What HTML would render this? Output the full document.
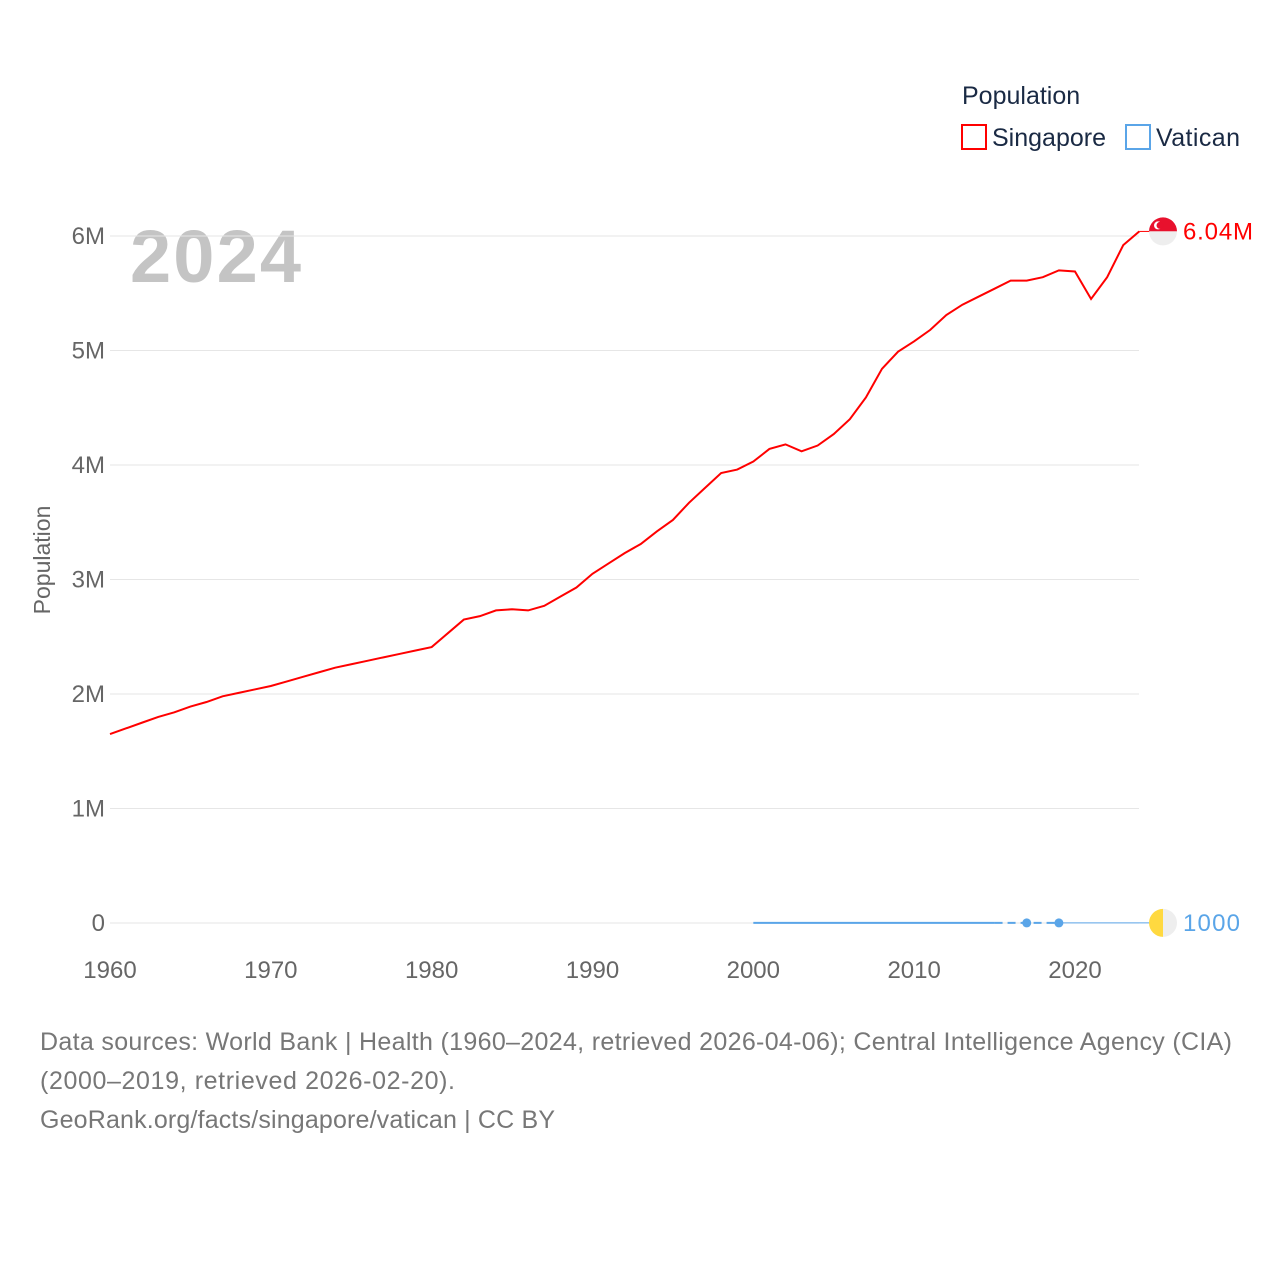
<!DOCTYPE html>
<html><head><meta charset="utf-8"><style>
body{margin:0;background:#fff;font-family:"Liberation Sans",sans-serif}
svg text{font-family:"Liberation Sans",sans-serif}
</style></head><body>
<svg id="c" width="1280" height="1280">
<text x="962" y="104" font-size="25" fill="#1a2a44">Population</text>
<g><rect x="962" y="125" width="24" height="24" fill="none" stroke="#f00" stroke-width="2"/><text x="992" y="146" font-size="25" fill="#1a2a44" textLength="114">Singapore</text></g>
<g><rect x="1126" y="125" width="24" height="24" fill="none" stroke="#5aa5e8" stroke-width="2"/><text x="1156" y="146" font-size="25" fill="#1a2a44" textLength="84">Vatican</text></g>
<text x="130" y="282" font-size="74" font-weight="bold" fill="#c4c4c4" textLength="171">2024</text>
<text transform="translate(50,560) rotate(-90)" text-anchor="middle" font-size="23" fill="#666">Population</text>
<g id="grid"></g><g id="marks"></g>
<text x="40" y="1050" font-size="25" fill="#777" textLength="1192">Data sources: World Bank | Health (1960–2024, retrieved 2026-04-06); Central Intelligence Agency (CIA)</text>
<text x="40" y="1089" font-size="25" fill="#777" textLength="415">(2000–2019, retrieved 2026-02-20).</text>
<text x="40" y="1128" font-size="25" fill="#777" textLength="515">GeoRank.org/facts/singapore/vatican | CC BY</text>
</svg>
<script>
const years=[];for(let y=1960;y<=2024;y++)years.push(y);
const singapore=[1.65,1.70,1.75,1.80,1.84,1.89,1.93,1.98,2.01,2.04,2.07,2.11,2.15,2.19,2.23,2.26,2.29,2.32,2.35,2.38,2.41,2.53,2.65,2.68,2.73,2.74,2.73,2.77,2.85,2.93,3.05,3.14,3.23,3.31,3.42,3.52,3.67,3.80,3.93,3.96,4.03,4.14,4.18,4.12,4.17,4.27,4.40,4.59,4.84,4.99,5.08,5.18,5.31,5.40,5.47,5.54,5.61,5.61,5.64,5.70,5.69,5.45,5.64,5.92,6.04];
const vaticanYears=[2000,2005,2010,2015,2017,2019];
const vatican=[800,800,800,800,1000,1000];
const yTicks=[0,1,2,3,4,5,6];const yTickLabels=["0","1M","2M","3M","4M","5M","6M"];
const xTicks=[1960,1970,1980,1990,2000,2010,2020];
const X=y=>110+(y-1960)*16.083;
const Y=v=>923-v*114.5;
const NS="http://www.w3.org/2000/svg";
function mk(t,a,p){const e=document.createElementNS(NS,t);for(const k in a)e.setAttribute(k,a[k]);p.appendChild(e);return e;}
const g=document.getElementById('grid'),m=document.getElementById('marks');
yTicks.forEach((v,i)=>{
 const l=mk('line',{x1:110,x2:1139,y1:Y(v),y2:Y(v),stroke:'#e6e6e6','stroke-width':1},g);
 
 
 const t=mk('text',{x:105,y:Y(v)+8,'text-anchor':'end','font-size':24,fill:'#666'},g);t.textContent=yTickLabels[i];
 
 
});
xTicks.forEach(v=>{
 const t=mk('text',{x:X(v),y:978,'text-anchor':'middle','font-size':24,fill:'#666'},g);t.textContent=v;
 
 
});
const sp=mk('polyline',{points:years.map((y,i)=>X(y)+','+Y(singapore[i])).join(' '),fill:'none',stroke:'#f00','stroke-width':2},m);


const last=singapore[singapore.length-1];
mk('line',{x1:X(2024),y1:Y(last),x2:1150,y2:Y(last),stroke:'#f00','stroke-width':1},m);
const vy=v=>Y(v/1e6);
const solid=mk('polyline',{points:vaticanYears.slice(0,4).map((y,i)=>X(y)+','+vy(vatican[i])).join(' '),fill:'none',stroke:'#5aa5e8','stroke-width':2},m);


const dash=mk('polyline',{points:vaticanYears.slice(3).map((y,i)=>X(y)+','+vy(vatican[i+3])).join(' '),fill:'none',stroke:'#5aa5e8','stroke-width':2,'stroke-dasharray':'8,5'},m);


[4,5].forEach(i=>{const c=mk('circle',{cx:X(vaticanYears[i]),cy:vy(vatican[i]),r:4.5,fill:'#5aa5e8'},m);
 
 });
mk('line',{x1:X(2019),y1:vy(1000),x2:1150,y2:vy(1000),stroke:'#5aa5e8','stroke-width':1},m);
const fs=mk('g',{},m);
const fy=Y(last);
mk('path',{d:`M1149,${fy} a14,14 0 0,1 28,0 z`,fill:'#e8112d'},fs);
mk('path',{d:`M1149,${fy} a14,14 0 0,0 28,0 z`,fill:'#eee'},fs);
mk('circle',{cx:1158,cy:fy-6,r:4,fill:'#fff'},fs);mk('circle',{cx:1160,cy:fy-6,r:3.5,fill:'#e8112d'},fs);
const sl=mk('text',{x:1183,y:fy+8,'font-size':24,fill:'#f00',textLength:70},m);sl.textContent='6.04M';


const fv=mk('g',{},m);
const vyy=vy(1000);
mk('path',{d:`M1163,${vyy-14} a14,14 0 0,0 0,28 z`,fill:'#ffd940'},fv);
mk('path',{d:`M1163,${vyy-14} a14,14 0 0,1 0,28 z`,fill:'#eee'},fv);
const vl=mk('text',{x:1183,y:vyy+8,'font-size':24,fill:'#5aa5e8',textLength:57},m);vl.textContent='1000';


</script>
</body></html>
